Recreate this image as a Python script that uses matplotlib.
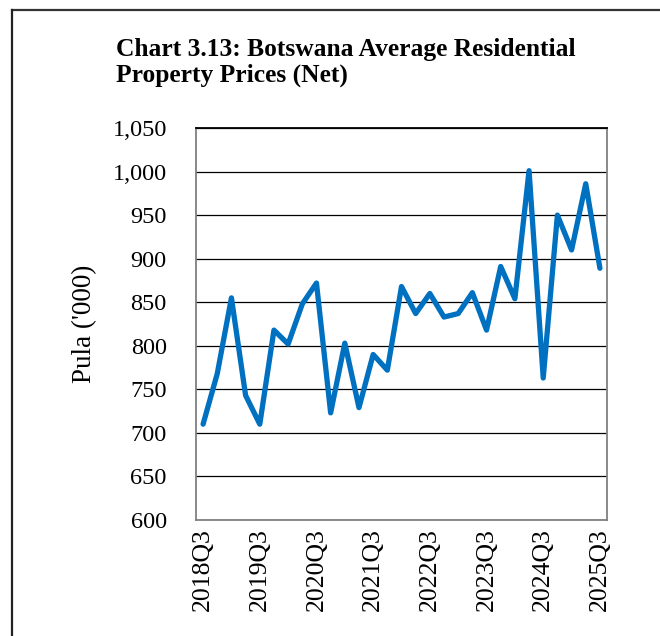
import matplotlib
matplotlib.use("Agg")
import matplotlib.pyplot as plt
from matplotlib.lines import Line2D
from matplotlib.ticker import FuncFormatter, MultipleLocator

# Quarterly average residential property prices (net), Pula thousands
quarters = [f"{y}Q{q}" for y in range(2018, 2026) for q in range(1, 5)][2:31]
prices = [710, 768, 855, 743, 710, 818, 802, 848, 872, 723,
          803, 729, 790, 772, 868, 837, 860, 833, 837, 861,
          818, 891, 854, 1001, 763, 950, 910, 986, 889]
tick_labels = quarters[::4]

plt.rcParams["font.family"] = ["Liberation Serif", "DejaVu Serif"]

fig = plt.figure(figsize=(6.6, 6.36), dpi=100)
ax = fig.add_axes([196 / 660, 1 - 520 / 636, 411 / 660, 392 / 636])

x = list(range(len(prices)))
ax.plot(x, prices, color="#0070C0", lw=3.8, solid_joinstyle="round",
        solid_capstyle="round", zorder=3)

ax.set_xlim(-0.5, len(prices) - 0.5)
ax.set_ylim(600, 1050)
ax.yaxis.set_major_locator(MultipleLocator(50))
ax.yaxis.set_major_formatter(FuncFormatter(lambda v, _: f"{v:,.0f}"))
ax.grid(axis="y", color="black", lw=0.9, zorder=1)
ax.set_axisbelow(True)

ax.set_xticks(x[::4])
ax.set_xticklabels(tick_labels, rotation=90)
ax.tick_params(axis="both", length=0, colors="black")
ax.tick_params(axis="x", pad=6, labelsize=18.5)
ax.tick_params(axis="y", pad=21, labelsize=17.5)

for s in ax.spines.values():
    s.set_color("#808080")
    s.set_linewidth(1.3)
ax.spines["top"].set_color("black")

ax.set_ylabel("Pula ('000)", fontsize=19.5, labelpad=11)

fig.text(116 / 660, 1 - 38 / 636,
         "Chart 3.13: Botswana Average Residential\nProperty Prices (Net)",
         fontsize=18.4, fontweight="bold", va="top", ha="left", linespacing=1.12)

# outer chart frame
fx, fy = 11.5 / 660, 1 - 9.5 / 636
fig.add_artist(Line2D([fx, 1.0], [fy, fy], transform=fig.transFigure,
                      color="#333333", lw=1.6))
fig.add_artist(Line2D([fx, fx], [fy, 0.0], transform=fig.transFigure,
                      color="#222222", lw=1.6))

fig.savefig("out.png", dpi=100)
